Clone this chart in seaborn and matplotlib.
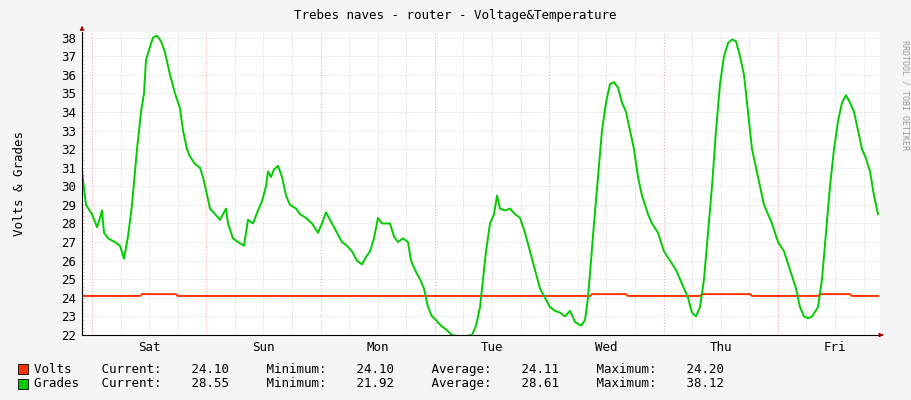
import numpy as np
import pandas as pd
import matplotlib
matplotlib.use("Agg")
import matplotlib.pyplot as plt
import seaborn as sns

# green series: (pixel-x, value)
grades_px = [82,86,92,97,100,102,104,108,115,120,124,128,132,137,141,144,146,150,153,157,161,165,170,175,180,183,187,190,195,200,203,206,210,215,220,226,228,233,238,244,248,253,258,262,266,268,271,274,278,282,286,290,296,300,306,312,318,322,326,332,337,342,347,352,357,362,366,370,374,378,382,386,390,394,398,403,408,411,415,420,424,428,432,436,441,446,452,458,466,472,476,480,483,486,490,494,497,500,505,510,515,520,525,530,535,540,545,550,555,560,565,570,575,581,585,588,591,594,598,602,606,610,614,618,622,626,630,634,638,642,648,652,658,664,670,676,680,684,688,692,696,700,704,708,712,716,720,724,728,732,736,740,744,748,752,756,760,764,768,772,778,784,790,796,800,804,808,812,818,822,826,830,834,838,842,846,850,854,858,862,866,870,874,878]
grades_val = [30.8,29,28.5,27.8,28.3,28.7,27.5,27.2,27,26.8,26.1,27.3,29,32,34,35,36.8,37.5,38,38.1,37.8,37.2,36,35,34.2,33,32,31.6,31.2,31,30.5,29.8,28.8,28.5,28.2,28.8,28,27.2,27,26.8,28.2,28,28.7,29.2,30,30.8,30.5,30.9,31.1,30.5,29.5,29,28.8,28.5,28.3,28,27.5,28,28.6,28,27.5,27,26.8,26.5,26,25.8,26.2,26.5,27.2,28.3,28,28,28,27.3,27,27.2,27,26,25.5,25,24.5,23.5,23,22.8,22.5,22.3,22,21.95,21.95,22,22.5,23.5,25,26.5,28,28.5,29.5,28.8,28.7,28.8,28.5,28.3,27.5,26.5,25.5,24.5,24,23.5,23.3,23.2,23,23.3,22.7,22.5,22.8,24,26,28,30.5,33,34.5,35.5,35.6,35.3,34.5,34,33,32,30.5,29.5,28.5,28,27.5,26.5,26,25.5,25,24.5,24,23.2,23,23.5,25,27.5,30,33,35.5,37,37.7,37.9,37.8,37,36,34,32,31,30,29,28.5,28,27,26.5,25.5,24.5,23.5,23,22.9,23,23.5,25,27.5,30,32,33.5,34.5,34.9,34.5,34,33,32,31.5,30.8,29.5,28.5]
volts_px = [82,140,142,176,178,590,592,626,628,700,702,750,752,818,820,850,852,878]
volts_val = [24.1,24.1,24.2,24.2,24.1,24.1,24.2,24.2,24.1,24.1,24.2,24.2,24.1,24.1,24.2,24.2,24.1,24.1]
day_labels = ["Sat","Sun","Mon","Tue","Wed","Thu","Fri"]

PX_PER_H = 114.3/24
def to_h(px): return (np.array(px)-92)/PX_PER_H

g = pd.DataFrame({"h": to_h(grades_px), "v": grades_val})
v = pd.DataFrame({"h": to_h(volts_px), "v": volts_val})

fig = plt.figure(figsize=(9.11,4.0), dpi=100, facecolor="#F5F5F5")
ax = fig.add_axes([82/911, 1-335/400, (880-82)/911, (335-32)/400])
ax.set_facecolor("white")
xmin, xmax = to_h(82), to_h(880)
ax.set_xlim(xmin, xmax); ax.set_ylim(22, 38.3)

for hh in np.arange(-0, 170, 6):
    if hh % 24: ax.axvline(hh, color="#cccccc", lw=0.6, ls=(0,(1,2)), zorder=0)
for hh in range(0, 168, 24):
    ax.axvline(hh, color="#ff9999", lw=0.7, ls=(0,(1,2)), zorder=0)
for yy in range(23, 39):
    ax.axhline(yy, color="#cccccc", lw=0.6, ls=(0,(1,2)), zorder=0)
for yy in np.arange(22.2, 38.3, 0.2):
    ax.plot([xmin, xmin+0.4], [yy, yy], color="#ff9999", lw=0.5, clip_on=False)

sns.lineplot(data=v, x="h", y="v", ax=ax, color="#FF3300", lw=1.4, estimator=None)
sns.lineplot(data=g, x="h", y="v", ax=ax, color="#00CC00", lw=1.4, estimator=None)

ax.set_xticks([12+24*i for i in range(7)])
ax.set_xticklabels(day_labels, family="DejaVu Sans Mono", fontsize=9)
ax.set_yticks(range(22, 39))
ax.set_yticklabels([str(i) for i in range(22, 39)], family="DejaVu Sans Mono", fontsize=9)
ax.tick_params(length=0, pad=4)
ax.set_xlabel(""); ax.set_ylabel("Volts & Grades", family="DejaVu Sans Mono", fontsize=9)
ax.yaxis.set_label_coords(-0.07, 0.5)
for s in ["top", "right"]: ax.spines[s].set_visible(False)
for s in ["left", "bottom"]: ax.spines[s].set_color("black"); ax.spines[s].set_linewidth(0.8)
ax.annotate("", xy=(1.008, 0), xytext=(0.999, 0), xycoords="axes fraction",
            arrowprops=dict(arrowstyle="-|>", color="#aa0000", lw=0.8, mutation_scale=6))
ax.annotate("", xy=(0, 1.03), xytext=(0, 1.0), xycoords="axes fraction",
            arrowprops=dict(arrowstyle="-|>", color="#aa0000", lw=0.8, mutation_scale=6))

mono = dict(family="DejaVu Sans Mono", fontsize=9)
fig.text(0.5, 1-15/400, "Trebes naves - router - Voltage&Temperature", ha="center", va="center", **mono)
fig.text(905/911, 1-95/400, "RRDTOOL / TOBI OETIKER", rotation=270, ha="center", va="center",
         family="DejaVu Sans Mono", fontsize=6, color="#999999")
rows = [("#FF3300", "Volts    Current:    24.10     Minimum:    24.10     Average:    24.11     Maximum:    24.20", 369),
        ("#00CC00", "Grades   Current:    28.55     Minimum:    21.92     Average:    28.61     Maximum:    38.12", 384)]
for col, txt, yp in rows:
    fig.patches.append(plt.Rectangle((18/911, 1-(yp+5)/400), 10/911, 10/400, transform=fig.transFigure,
                                     facecolor=col, edgecolor="black", lw=0.6))
    fig.text(34/911, 1-yp/400, txt, va="center", **mono)

fig.savefig("out.png", dpi=100, facecolor=fig.get_facecolor())
